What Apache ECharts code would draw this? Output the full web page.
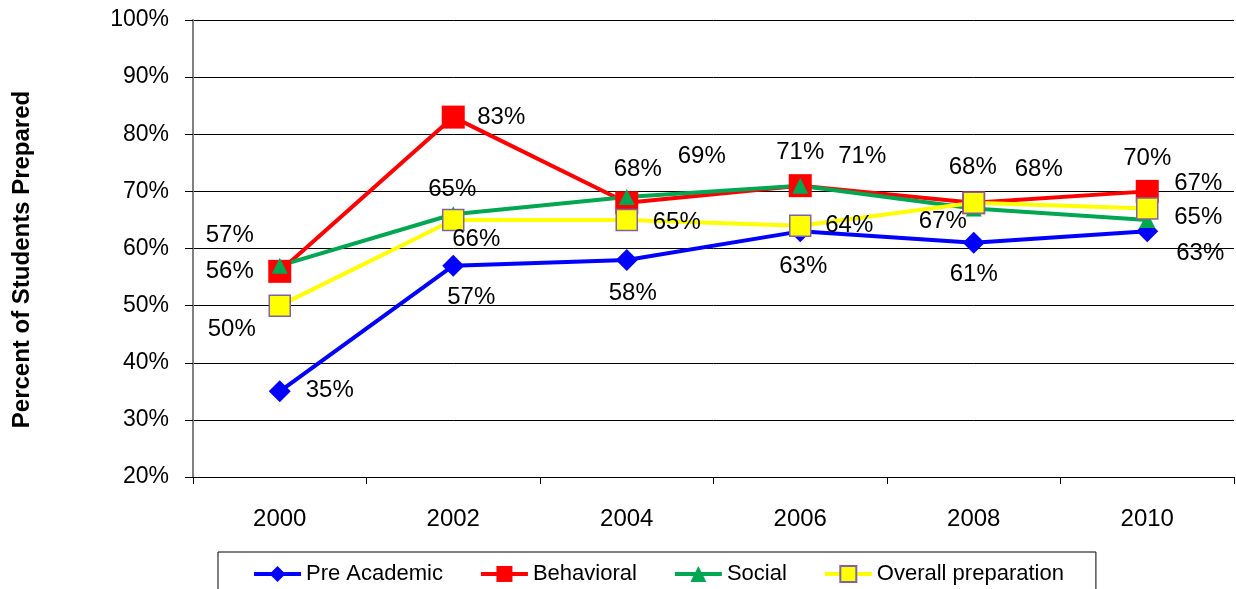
<!DOCTYPE html>
<html>
<head>
    <title>Percent of Students Prepared</title>
    <script src="https://cdn.jsdelivr.net/npm/echarts@6/dist/echarts.min.js"></script>
    <style>
        html, body { margin: 0; padding: 0; background: #fff; }
    </style>
</head>
<body>
    <div id="main" style="width: 1236px;height:589px;"></div>
    <script type="text/javascript">
        var years = ['2000', '2002', '2004', '2006', '2008', '2010'];
        var preAcademic = [35, 57, 58, 63, 61, 63];
        var behavioral = [56, 83, 68, 71, 68, 70];
        var social = [57, 66, 69, 71, 67, 65];
        var overall = [50, 65, 65, 64, 68, 67];

        // where each data label sits, relative to its point
        var offsPre = [[50, -1], [18, 32], [6, 33], [3, 35], [0, 32], [53, 22]];
        var offsBeh = [[-50, 0], [48, 0], [11, -33], [0, -33], [-1, -35], [0, -33]];
        var offsSoc = [[-50, -30], [23, 25], [75, -41], [62, -29], [-31, 13], [51, -3]];
        var offsAll = [[-48, 24], [-1, -31], [50, 2], [49, 0], [65, -33], [51, -25]];

        var font = 'Arial, "Liberation Sans", sans-serif';

        function withLabels(values, offs) {
            return values.map(function (v, i) {
                return {
                    value: v,
                    label: { offset: offs[i] }
                };
            });
        }

        function makeSeries(name, values, offs, color, symbol, size, border) {
            return {
                name: name,
                type: 'line',
                data: withLabels(values, offs),
                symbol: symbol,
                symbolSize: size,
                showAllSymbol: true,
                animation: false,
                lineStyle: { color: color, width: 4 },
                itemStyle: { color: color, borderColor: border || color, borderWidth: border ? 1.5 : 0 },
                label: {
                    show: true,
                    position: 'inside',
                    formatter: '{c}%',
                    color: '#000',
                    fontFamily: font,
                    fontSize: 24
                },
                emphasis: { disabled: true }
            };
        }

        var myChart = echarts.init(document.getElementById('main'));

        var option = {
            backgroundColor: '#fff',
            grid: { left: 193, right: 2, top: 20, bottom: 112, outerBoundsMode: 'none', containLabel: false },
            legend: {
                left: 218,
                top: 552,
                padding: [3, 32, 8, 34],
                itemGap: 36,
                itemWidth: 47,
                itemHeight: 20,
                borderColor: '#000',
                borderWidth: 1,
                lineStyle: { width: 4 },
                textStyle: { fontFamily: font, fontSize: 22, color: '#000' },
                data: ['Pre Academic', 'Behavioral', 'Social', 'Overall preparation']
            },
            xAxis: {
                type: 'category',
                data: years,
                boundaryGap: true,
                axisLine: { lineStyle: { color: '#000', width: 1 } },
                axisTick: { show: true, length: 7, lineStyle: { color: '#000' } },
                axisLabel: { color: '#000', fontFamily: font, fontSize: 24, margin: 22 }
            },
            yAxis: {
                type: 'value',
                min: 20,
                max: 100,
                interval: 10,
                name: 'Percent of Students Prepared',
                nameLocation: 'middle',
                nameGap: 150,
                nameTextStyle: { fontFamily: font, fontSize: 24, fontWeight: 'bold', color: '#000', padding: [0, 22, 0, 0] },
                axisLine: { show: true, lineStyle: { color: '#808080', width: 2 } },
                axisTick: { show: true, length: 8, lineStyle: { color: '#000' } },
                axisLabel: { color: '#000', fontFamily: font, fontSize: 23, margin: 24, formatter: '{value}%' },
                splitLine: { show: true, lineStyle: { color: '#000', width: 1 } }
            },
            series: [
                makeSeries('Pre Academic', preAcademic, offsPre, '#0000ff', 'diamond', 22),
                makeSeries('Behavioral', behavioral, offsBeh, '#ff0000', 'rect', 23),
                makeSeries('Social', social, offsSoc, '#00a651', 'triangle', 16),
                makeSeries('Overall preparation', overall, offsAll, '#ffff00', 'rect', 21, '#8064a2')
            ]
        };

        myChart.setOption(option);
    </script>
</body>
</html>
